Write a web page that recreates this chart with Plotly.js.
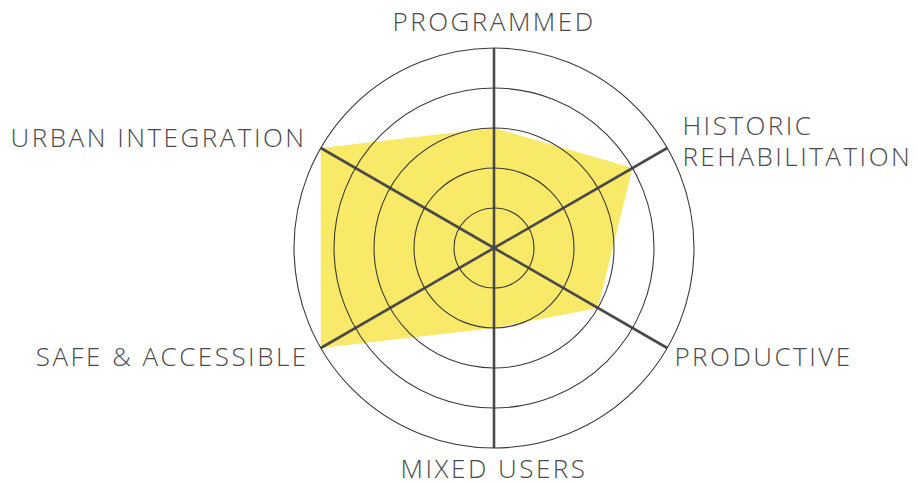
<!DOCTYPE html>
<html><head><meta charset="utf-8">
<script src="https://cdn.plot.ly/plotly-3.0.1.min.js"></script>
<style>
html,body{margin:0;padding:0;background:#fff;}
#chart{width:918px;height:482px;}
.angularaxistick text{letter-spacing:2.5px;}
</style>
</head><body>
<div id="chart"></div>
<script>
const categories = ['PROGRAMMED', 'HISTORIC<br>REHABILITATION', 'PRODUCTIVE', 'MIXED USERS', 'SAFE & ACCESSIBLE', 'URBAN INTEGRATION'];
const scores = [3, 4, 3, 2, 5, 5];
const rings = [1, 2, 3, 4, 5];

const trace = {
  type: 'scatterpolar',
  r: scores.concat([scores[0]]),
  theta: categories.concat([categories[0]]),
  mode: 'lines',
  fill: 'toself',
  fillcolor: '#F9E968',
  line: {width: 0, color: '#F9E968'},
  hoverinfo: 'skip'
};

const layout = {
  width: 918, height: 482,
  margin: {l: 0, r: 0, t: 0, b: 0},
  paper_bgcolor: '#fff',
  showlegend: false,
  font: {family: 'Open Sans, sans-serif', color: '#4a4a4a', size: 26, weight: 300},
  polar: {
    domain: {x: [294/918, 694/918], y: [34/482, 434/482]},
    bgcolor: 'rgba(0,0,0,0)',
    radialaxis: {
      range: [0, 5], tickvals: rings, showticklabels: false, ticks: '',
      showline: false, gridcolor: '#3a3a3a', gridwidth: 1.1
    },
    angularaxis: {
      direction: 'clockwise', rotation: 90,
      categoryorder: 'array', categoryarray: categories,
      showline: true, linecolor: '#3a3a3a', linewidth: 1.1,
      gridcolor: '#4a4a4a', gridwidth: 2.6,
      ticks: 'outside', ticklen: 6, tickcolor: 'rgba(0,0,0,0)',
      tickfont: {family: 'Open Sans, sans-serif', color: '#4a4a4a', size: 26, weight: 300}
    }
  }
};

// fine label nudges (pixels) in category order
const labelNudge = [[0, 0], [5, 13], [-3, -9], [0, -8], [-2, -9], [-4, 0]];

Plotly.newPlot('chart', [trace], layout, {displayModeBar: false, staticPlot: true}).then(function(){
  document.querySelectorAll('.polarlayer .polar').forEach(function(p){
    // draw grid above the filled area, as in the reference
    const front = p.querySelector('.frontplot');
    ['radial-grid','angular-grid'].forEach(function(c){
      const g = p.querySelector('.' + c);
      if (g && front) front.parentNode.insertBefore(g, front.nextSibling);
    });
    // tighten multi-line spacing and nudge labels
    p.querySelectorAll('.angularaxistick text').forEach(function(t, i){
      const lines = t.querySelectorAll('tspan.line');
      for (let k = 1; k < lines.length; k++) lines[k].setAttribute('dy', '1.18em');
      const n = labelNudge[i] || [0, 0];
      const tr = t.getAttribute('transform') || '';
      t.setAttribute('transform', tr + ' translate(' + n[0] + ',' + n[1] + ')');
    });
  });
});
</script>
</body></html>
